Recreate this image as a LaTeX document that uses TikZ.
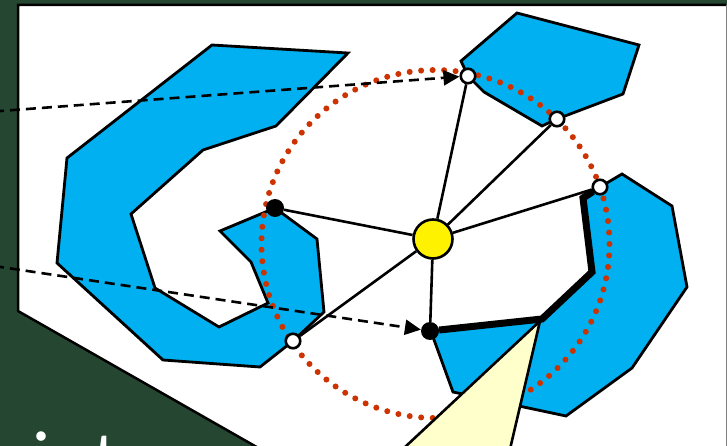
\documentclass[tikz,border=0pt]{standalone}
\usepackage{fontspec}
\usetikzlibrary{arrows.meta}
\newfontfamily\handfont{Lato}
\definecolor{chalk}{RGB}{37,71,49}
\definecolor{polyblue}{RGB}{0,176,240}
\definecolor{dotred}{RGB}{204,51,0}
\definecolor{calloutfill}{RGB}{255,255,204}
\tikzset{
  poly/.style={fill=polyblue,draw=black,line width=2.8pt,line join=miter},
  bnode/.style={circle,fill=black,inner sep=0pt,minimum size=18pt},
  wnode/.style={circle,fill=white,draw=black,line width=2.6pt,inner sep=0pt,minimum size=14.5pt},
  hub/.style={circle,fill=yellow,draw=black,line width=2.6pt,inner sep=0pt,minimum size=39pt},
  spoke/.style={draw=black,line width=2.6pt},
  dashline/.style={draw=black,line width=2.6pt,dash pattern=on 10pt off 6pt,-{Triangle[length=16pt,width=15pt]}},
  thickpath/.style={draw=black,line width=7pt,line join=miter},
  ringdots/.style={draw=dotred,line width=6pt,line cap=round,dash pattern=on 0pt off 11.51pt},
  calloutshape/.style={fill=calloutfill,draw=black,line width=2.6pt,line join=round}
}
\begin{document}
\begin{tikzpicture}[x=1pt,y=-1pt]
\useasboundingbox (0,0) rectangle (727,446);
\clip (0,0) rectangle (727,446);
\fill[chalk] (0,0) rectangle (727,446);
% handwritten label, partly off the picture
\node[text=white,anchor=base west,inner sep=0pt,font=\handfont\fontsize{75}{75}\selectfont] (lbl) at (-10,486) {oints};
% white panel
\fill[white] (18,5) -- (726,5) -- (726,470) -- (297,470) -- (18,311) -- cycle;
\draw[line width=2.5pt] (726,5) -- (18,5) -- (18,311) -- (297,470);
\draw[gray,line width=1pt] (726,5) -- (726,446);
% positions
\coordinate (pb1) at (275,208);
\coordinate (pw1) at (468,76);
\coordinate (pw2) at (557,119);
\coordinate (pw3) at (600,187);
\coordinate (pb2) at (430,331);
\coordinate (pw4) at (293,341);
\coordinate (ph) at (433,239);
\coordinate (k1) at (542,319);
\coordinate (k2) at (592,272);
\coordinate (k3) at (583,198);
% blue polygons
\draw[poly] (212,45) -- (348,53) -- (276,126) -- (203,150) -- (131,214) -- (155,288)
  -- (219,327) -- (268,303) -- (251,262) -- (220,231) -- (pb1) -- (317,239) -- (324,312)
  -- (pw4) -- (260,367) -- (163,360) -- (57,263) -- (67,158) -- cycle;
\draw[poly] (517,13) -- (639,45) -- (623,94) -- (pw2) -- (542,126) -- (484,92)
  -- (pw1) -- (461,61) -- cycle;
\draw[poly] (pb2) -- (k1) -- (k2) -- (k3) -- (pw3) -- (622,174) -- (672,206)
  -- (687,287) -- (632,368) -- (566,416) -- (453,392) -- (433,337) -- cycle;
% dotted ring
\draw[ringdots] (435.5,244) circle[radius=174pt];
% nodes
\node[bnode] (b1) at (pb1) {};
\node[wnode] (w1) at (pw1) {};
\node[wnode] (w2) at (pw2) {};
\node[wnode] (w3) at (pw3) {};
\node[bnode] (b2) at (pb2) {};
\node[wnode] (w4) at (pw4) {};
\node[hub] (hub) at (ph) {};
% spokes
\draw[spoke] (hub) -- (b1);
\draw[spoke] (hub) -- (w1);
\draw[spoke] (hub) -- (w2);
\draw[spoke] (hub) -- (w3);
\draw[spoke] (hub) -- (b2);
\draw[spoke] (hub) -- (w4);
% dashed arrows
\coordinate (s1) at (-6,111.5);
\coordinate (s2) at (-6,266);
\draw[dashline] (s1) -- (w1);
\draw[dashline] (s2) -- (b2);
% thick path
\draw[thickpath] (b2) -- (k1) -- (k2) -- (k3) -- (w3);
% callout
\coordinate (ct) at (540,321);
\draw[calloutshape] (ct) -- (389,462) -- (507,462) -- cycle;
\end{tikzpicture}
\end{document}
